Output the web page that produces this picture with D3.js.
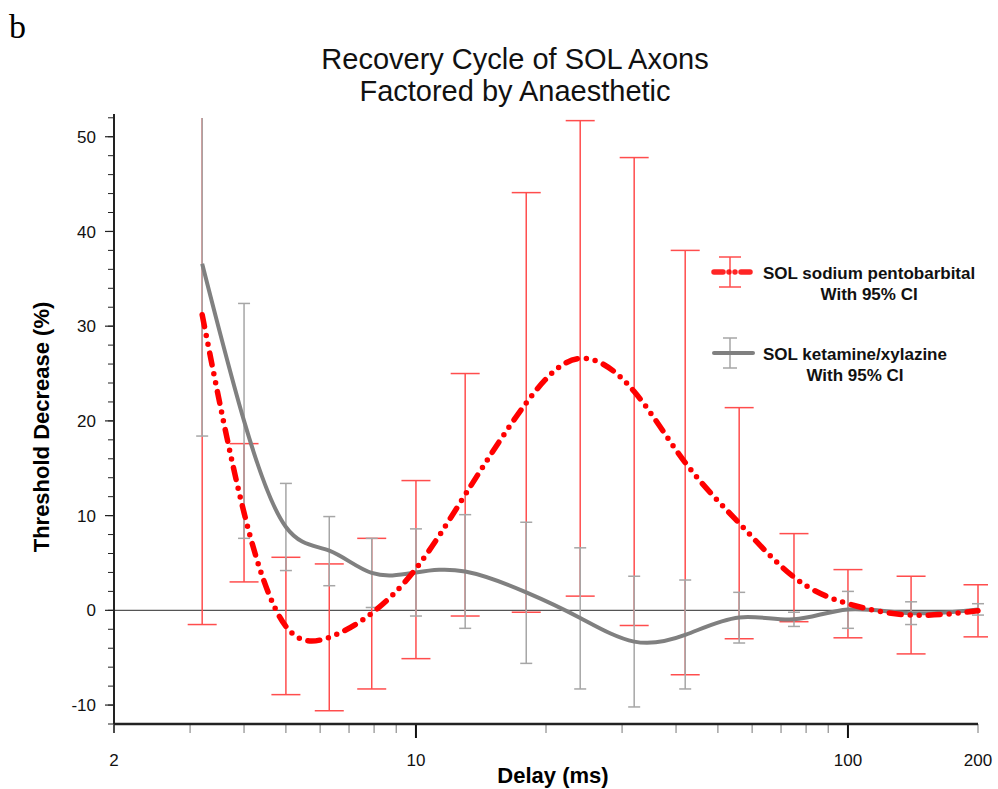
<!DOCTYPE html>
<html>
<head>
<meta charset="utf-8">
<script src="https://cdn.jsdelivr.net/npm/d3@7"></script>
<style>
  body { margin: 0; background: #fff; }
  text { font-family: Arial, "Liberation Sans", sans-serif; }
</style>
</head>
<body>
<script>
// delays (ms) of the recovery cycle
const delays = [3.2, 4, 5, 6.3, 7.9, 10, 13, 18, 24, 32, 42, 56, 75, 100, 140, 200];

// SOL sodium pentobarbital
const pentoMean = [31.2, 10.3, -1.7, -2.85, -0.3, 4.4, 12.2, 21.9, 26.6, 23.1, 15.6, 9.2, 3.5, 0.7, -0.5, -0.05];
const pentoLow  = [-1.5, 3.0, -8.9, -10.6, -8.3, -5.1, -0.6, -0.2, 1.5, -1.6, -6.8, -3.0, -1.2, -2.9, -4.6, -2.8];
const pentoHigh = [63.9, 17.6, 5.6, 4.9, 7.6, 13.7, 25.0, 44.1, 51.7, 47.8, 38.0, 21.4, 8.1, 4.3, 3.6, 2.7];

// SOL ketamine/xylazine
const ketMean = [36.6, 20.0, 8.8, 6.3, 3.95, 4.0, 4.1, 1.9, -0.8, -3.3, -2.6, -0.75, -0.95, 0.1, -0.3, 0.1];
const ketLow  = [18.4, 7.6, 4.2, 2.6, 0.3, -0.6, -1.9, -5.6, -8.3, -10.2, -8.3, -3.45, -1.7, -1.9, -1.5, -0.5];
const ketHigh = [54.8, 32.4, 13.4, 9.9, 7.6, 8.6, 10.1, 9.3, 6.6, 3.6, 3.2, 1.9, -0.2, 2.0, 0.9, 0.7];

const xTickLabels = [2, 10, 100, 200];
const xMinorTicks = [3, 4, 5, 6, 7, 8, 9, 20, 30, 40, 50, 60, 70, 80, 90];
const yTickLabels = [-10, 0, 10, 20, 30, 40, 50];

const w = 998, h = 789;
const pLeft = 114, pRight = 978, pTop = 114, pBottom = 724;

const svg = d3.select("body").append("svg")
  .attr("width", w).attr("height", h);

const x = d3.scaleLog().domain([2, 200]).range([pLeft, pRight]);
const y = d3.scaleLinear().domain([-12, 52.4]).range([pBottom, pTop]);

svg.append("defs").append("clipPath").attr("id", "plot")
  .append("rect").attr("x", pLeft).attr("y", 118).attr("width", pRight - pLeft + 10).attr("height", pBottom - 118);

const pento = delays.map((d, i) => ({d: d, m: pentoMean[i], lo: pentoLow[i], hi: pentoHigh[i]}));
const ket = delays.map((d, i) => ({d: d, m: ketMean[i], lo: ketLow[i], hi: ketHigh[i]}));

// zero line
svg.append("line")
  .attr("x1", pLeft).attr("x2", pRight)
  .attr("y1", y(0)).attr("y2", y(0))
  .attr("stroke", "#555").attr("stroke-width", 1.2);

const plot = svg.append("g").attr("clip-path", "url(#plot)");

function errorBars(data, color, capW, cls) {
  const g = plot.append("g").attr("class", cls);
  const bar = g.selectAll("g").data(data).enter().append("g");
  bar.append("line")
    .attr("x1", d => x(d.d)).attr("x2", d => x(d.d))
    .attr("y1", d => y(d.lo)).attr("y2", d => y(d.hi))
    .attr("stroke", color).attr("stroke-width", 1.5);
  bar.append("line")
    .attr("x1", d => x(d.d) - capW / 2).attr("x2", d => x(d.d) + capW / 2)
    .attr("y1", d => y(d.lo)).attr("y2", d => y(d.lo))
    .attr("stroke", color).attr("stroke-width", 1.5);
  bar.append("line")
    .attr("x1", d => x(d.d) - capW / 2).attr("x2", d => x(d.d) + capW / 2)
    .attr("y1", d => y(d.hi)).attr("y2", d => y(d.hi))
    .attr("stroke", color).attr("stroke-width", 1.5);
}

errorBars(pento, "#ff4d4d", 29, "pento-ci");
errorBars(ket, "#a6a6a6", 12, "ket-ci");

const line = d3.line().x(d => x(d.d)).y(d => y(d.m)).curve(d3.curveNatural);

plot.append("path").datum(ket)
  .attr("d", line)
  .attr("fill", "none").attr("stroke", "#808080").attr("stroke-width", 4);

const redDash = "12 9 0 9 0 9";
plot.append("path").datum(pento)
  .attr("d", line)
  .attr("fill", "none").attr("stroke", "#ff0000").attr("stroke-width", 5.5)
  .attr("stroke-linecap", "round")
  .attr("stroke-dasharray", redDash);

// axes
const yAxis = svg.append("g").attr("transform", "translate(" + pLeft + ",0)");
yAxis.selectAll(".minor").data(d3.range(-12, 53, 2)).enter().append("line")
  .attr("x1", -6).attr("x2", 0)
  .attr("y1", d => y(d)).attr("y2", d => y(d))
  .attr("stroke", "#222").attr("stroke-width", 1);
yAxis.selectAll(".major").data(yTickLabels).enter().append("line")
  .attr("x1", -9).attr("x2", 0)
  .attr("y1", d => y(d)).attr("y2", d => y(d))
  .attr("stroke", "#222").attr("stroke-width", 1.2);
yAxis.selectAll("text").data(yTickLabels).enter().append("text")
  .attr("x", -18).attr("y", d => y(d)).attr("dy", "0.36em")
  .attr("text-anchor", "end").attr("font-size", 17).attr("fill", "#111")
  .text(d => d);
yAxis.append("line").attr("x1", 0).attr("x2", 0).attr("y1", pTop).attr("y2", pBottom + 9)
  .attr("stroke", "#222").attr("stroke-width", 2);

const xAxis = svg.append("g").attr("transform", "translate(0," + pBottom + ")");
xAxis.selectAll(".minor").data(xMinorTicks.concat([2, 200])).enter().append("line")
  .attr("x1", d => x(d)).attr("x2", d => x(d))
  .attr("y1", 0).attr("y2", 9)
  .attr("stroke", "#777").attr("stroke-width", 1);
xAxis.selectAll(".major").data([10, 100]).enter().append("line")
  .attr("x1", d => x(d)).attr("x2", d => x(d))
  .attr("y1", 0).attr("y2", 14)
  .attr("stroke", "#111").attr("stroke-width", 2);
xAxis.selectAll("text").data(xTickLabels).enter().append("text")
  .attr("x", d => x(d)).attr("y", 42)
  .attr("text-anchor", "middle").attr("font-size", 17).attr("fill", "#111")
  .text(d => d);
xAxis.append("line").attr("x1", pLeft).attr("x2", pRight).attr("y1", 0).attr("y2", 0)
  .attr("stroke", "#222").attr("stroke-width", 2.5);

// titles
svg.append("text").attr("x", 9).attr("y", 38)
  .style("font-family", "'Liberation Serif', 'Times New Roman', serif")
  .attr("font-size", 34).text("b");

const title = svg.append("text").attr("text-anchor", "middle").attr("font-size", 29).attr("fill", "#111");
title.append("tspan").attr("x", 515).attr("y", 69).text("Recovery Cycle of SOL Axons");
title.append("tspan").attr("x", 515).attr("y", 101).text("Factored by Anaesthetic");

svg.append("text").attr("x", 553).attr("y", 783)
  .attr("text-anchor", "middle").attr("font-size", 22).attr("font-weight", "bold")
  .text("Delay (ms)");

svg.append("text")
  .attr("transform", "translate(49,427) rotate(-90)")
  .attr("text-anchor", "middle").attr("font-size", 22).attr("font-weight", "bold")
  .text("Threshold Decrease (%)");

// legend
const legendItems = [
  {name: "SOL sodium pentobarbital", color: "#ff0000", ci: "#ff4d4d", width: 5.5, dash: redDash, cap: 22, ly: 272},
  {name: "SOL ketamine/xylazine", color: "#808080", ci: "#a6a6a6", width: 4, dash: null, cap: 14, ly: 353}
];
const legend = svg.append("g");
legendItems.forEach(function(item) {
  const g = legend.append("g");
  g.append("line").attr("x1", 730).attr("x2", 730).attr("y1", item.ly - 15).attr("y2", item.ly + 15)
    .attr("stroke", item.ci).attr("stroke-width", 1.5);
  [item.ly - 15, item.ly + 15].forEach(function(cy) {
    g.append("line").attr("x1", 730 - item.cap / 2).attr("x2", 730 + item.cap / 2)
      .attr("y1", cy).attr("y2", cy).attr("stroke", item.ci).attr("stroke-width", 1.5);
  });
  const l = g.append("line").attr("x1", 714).attr("x2", 753).attr("y1", item.ly).attr("y2", item.ly)
    .attr("stroke", item.color).attr("stroke-width", item.width).attr("stroke-linecap", "round");
  if (item.dash) l.attr("stroke-dasharray", "9 6 0 6 0 6").attr("opacity", 0.85);
  const t1 = g.append("text").attr("x", 763).attr("y", item.ly + 7)
    .attr("font-size", 17).attr("font-weight", "bold").attr("fill", "#111").text(item.name);
  const tw = t1.node().getComputedTextLength();
  g.append("text").attr("x", 763 + tw / 2).attr("y", item.ly + 28)
    .attr("text-anchor", "middle")
    .attr("font-size", 17).attr("font-weight", "bold").attr("fill", "#111").text("With 95% CI");
});
</script>
</body>
</html>
